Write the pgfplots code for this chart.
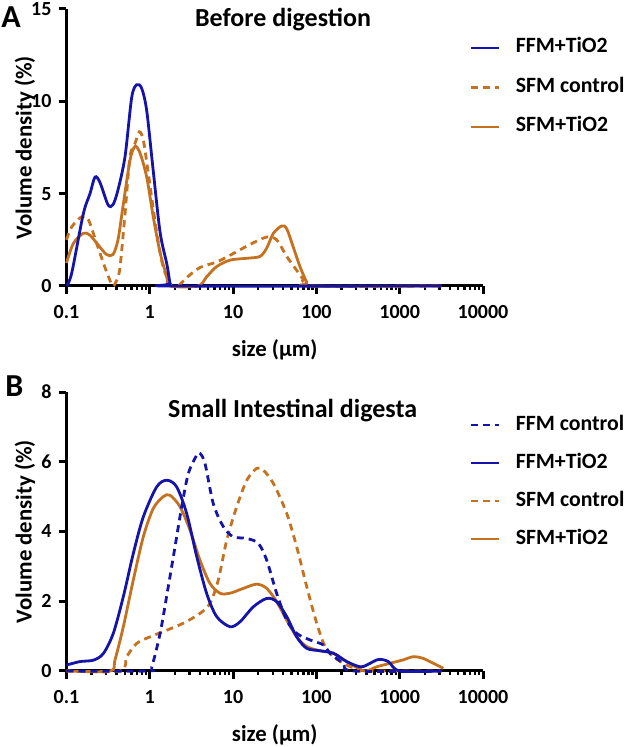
\documentclass[border=0pt]{standalone}
\usepackage{fontspec}
\setmainfont{Carlito}
\usepackage{pgfplots}
\pgfplotsset{compat=1.18}
\definecolor{cblue}{RGB}{20,20,170}
\definecolor{corange}{RGB}{196,114,32}
\newcommand{\tlab}{\fontsize{10}{12}\selectfont\bfseries}
\newcommand{\leglab}{\fontsize{10.9}{12}\selectfont\bfseries}
\newcommand{\alab}{\fontsize{11.4}{13}\selectfont\bfseries}
\newcommand{\ttlab}{\fontsize{13}{15}\selectfont\bfseries}

\pgfplotsset{
 every axis/.append style={
  width=208.25pt, scale only axis,
  axis lines=left, axis line style={-, line width=1.5pt, black},
  tick align=outside,
  major tick length=4pt, minor tick length=2pt,
  major tick style={black, line width=1.5pt},
  minor tick style={black, line width=1.2pt},
  tick label style={font=\tlab},
  xticklabel style={yshift=-2pt},
  /pgf/number format/assume math mode=true,
  clip=false,
  legend style={draw=none, fill=none, font=\leglab, inner sep=0pt, outer sep=0pt, column sep=7.5pt, anchor=north west, nodes={inner sep=0pt, text height=7pt, text depth=2pt}},
  legend cell align=left,
  every axis y label/.style={at={(axis description cs:-0.0996,0.5)}, rotate=90, anchor=center},
  every axis x label/.style={at={(axis description cs:0.5,-0.23)}, anchor=center},
  label style={font=\alab},
 },
 legend image code/.code={\draw[#1] (0pt,0pt) -- (14pt,0pt);},
}
\tikzset{
 sb/.style={cblue, line width=1.4pt, smooth, tension=0.5},
 db/.style={cblue, line width=1.4pt, smooth, tension=0.5, dash pattern=on 3.5pt off 2.5pt},
 so/.style={corange, line width=1.4pt, smooth, tension=0.5},
 do/.style={corange, line width=1.4pt, smooth, tension=0.5, dash pattern=on 3.5pt off 2.5pt},
}

\begin{document}
\begin{tikzpicture}
\path[use as bounding box] (0,0) rectangle (316.5pt,373.5pt);

\begin{axis}[xmode=log, xmin=0.1, xmax=10000, ymin=0,
  xtick={0.1,1,10,100,1000,10000},
  xticklabels={0.1,1,10,100,1000,10000},
  minor xtick={0.2,0.3,0.4,0.5,0.6,0.7,0.8,0.9,2,3,4,5,6,7,8,9,20,30,40,50,60,70,80,90,200,300,400,500,600,700,800,900,2000,3000,4000,5000,6000,7000,8000,9000},
  ylabel={Volume density (\%)}, xlabel={size (µm)},
  at={(33.25pt,230.5pt)}, anchor=south west, height=138.5pt,
  ymax=15, ytick={0,5,10,15},
  legend style={at={(axis description cs:0.969,0.892)}, row sep=10.75pt}]
\addlegendimage{sb}\addlegendentry{FFM+TiO2}
\addlegendimage{do}\addlegendentry{SFM control}
\addlegendimage{so}\addlegendentry{SFM+TiO2}
\node[font=\ttlab, anchor=base, inner sep=0pt] at (axis description cs:0.52,0.935) {Before digestion};
% SFM control
\addplot[do, forget plot] coordinates {(0.1,2.5) (0.1155,3.2) (0.1522,3.75) (0.1827,3.6) (0.2304,2.3) (0.2897,1.0) (0.3327,0.3) (0.361,0) (0.40,0.3) (0.4385,1.0) (0.504,3.9) (0.578,7.0) (0.663,7.7) (0.748,8.35) (0.836,7.9) (0.959,6.1) (1.21,2.9) (1.45,1.0) (1.75,0.15) (1.83,0) (2.18,0) (2.77,0.45) (4.0,1.0) (6.35,1.3) (9.97,1.75) (15.96,2.25) (25.3,2.65) (33.3,2.5) (44.0,1.6) (58.0,0.85) (69.6,0.35) (80,0) (3160,0)};
% SFM+TiO2
\addplot[so, forget plot] coordinates {(0.1,1.25) (0.1207,2.3) (0.159,2.85) (0.1915,2.75) (0.2525,2.1) (0.304,1.7) (0.361,1.7) (0.415,2.5) (0.4764,4.3) (0.578,6.8) (0.663,7.55) (0.763,7.2) (0.918,5.9) (1.10,3.75) (1.33,1.8) (1.60,0.5) (1.75,0) (3.79,0) (4.82,0.5) (6.35,1.05) (9.18,1.4) (14.6,1.5) (21.0,1.6) (25.3,2.05) (30.4,2.85) (38.3,3.25) (44.0,3.1) (52.8,2.1) (63.5,1.05) (76.5,0.2) (83.8,0) (3160,0)};
% FFM+TiO2
\addplot[sb, forget plot] coordinates {(0.1,0) (0.1155,0.7) (0.159,3.9) (0.1915,5.0) (0.220,5.9) (0.2525,5.6) (0.315,4.4) (0.361,4.4) (0.415,5.2) (0.504,7.0) (0.606,10.2) (0.696,10.9) (0.80,10.7) (0.918,9.5) (1.09,6.4) (1.33,2.9) (1.60,1.2) (1.75,0.15) (1.85,0) (3160,0)};
\end{axis}

\begin{axis}[xmode=log, xmin=0.1, xmax=10000, ymin=0,
  xtick={0.1,1,10,100,1000,10000},
  xticklabels={0.1,1,10,100,1000,10000},
  minor xtick={0.2,0.3,0.4,0.5,0.6,0.7,0.8,0.9,2,3,4,5,6,7,8,9,20,30,40,50,60,70,80,90,200,300,400,500,600,700,800,900,2000,3000,4000,5000,6000,7000,8000,9000},
  ylabel={Volume density (\%)}, xlabel={size (µm)},
  at={(33.25pt,38pt)}, anchor=south west, height=139.5pt,
  ymax=8, ytick={0,2,4,6,8},
  legend style={at={(axis description cs:0.969,0.914)}, row sep=10pt}]
\addlegendimage{db}\addlegendentry{FFM control}
\addlegendimage{sb}\addlegendentry{FFM+TiO2}
\addlegendimage{do}\addlegendentry{SFM control}
\addlegendimage{so}\addlegendentry{SFM+TiO2}
\node[font=\ttlab, anchor=base, inner sep=0pt] at (axis description cs:0.543,0.907) {Small Intestinal digesta};
% SFM control
\addplot[do, forget plot] coordinates {(0.1,0) (0.4385,0) (0.528,0.41) (0.696,0.79) (1.006,0.98) (1.60,1.17) (2.52,1.37) (4.0,1.65) (5.28,1.94) (6.64,2.61) (8.38,3.75) (11.05,4.71) (14.6,5.47) (19.2,5.81) (23.0,5.76) (30.4,5.38) (44.0,4.52) (58.0,3.56) (76.5,2.42) (100.8,1.37) (126.8,0.70) (159.6,0.41) (231,0.17) (334,0.03) (380,0) (3160,0)};
% SFM+TiO2
\addplot[so, forget plot] coordinates {(0.1,0) (0.3327,0) (0.382,0.32) (0.481,1.27) (0.634,2.61) (0.836,3.85) (1.10,4.66) (1.45,5.0) (1.75,5.04) (2.305,4.71) (3.04,4.04) (4.0,3.18) (5.28,2.51) (6.96,2.23) (9.18,2.23) (13.3,2.37) (19.2,2.49) (25.3,2.37) (33.3,1.99) (44.0,1.46) (58.0,0.98) (76.5,0.70) (110.5,0.58) (159.6,0.51) (231,0.27) (334,0.05) (402,0) (530,0.12) (765,0.22) (1105,0.32) (1456,0.41) (1920,0.36) (2530,0.22) (3336,0.08)};
% FFM control
\addplot[db, forget plot] coordinates {(0.1,0) (0.918,0) (1.054,0.12) (1.33,1.08) (1.667,2.42) (2.007,3.56) (2.415,4.71) (2.90,5.66) (3.66,6.19) (4.0,6.24) (4.60,5.95) (5.78,4.80) (7.63,4.14) (10.0,3.85) (14.6,3.80) (20.07,3.66) (25.3,3.18) (33.3,2.23) (44.0,1.46) (58.0,1.08) (83.8,0.89) (121,0.75) (145.6,0.51) (210,0.22) (277,0) (3160,0)};
% FFM+TiO2
\addplot[sb, forget plot] coordinates {(0.1,0.17) (0.145,0.27) (0.210,0.31) (0.2767,0.5) (0.3646,1.08) (0.4808,2.13) (0.634,3.37) (0.836,4.42) (1.21,5.28) (1.60,5.47) (2.10,5.28) (2.77,4.52) (3.66,3.28) (4.82,2.22) (6.35,1.56) (9.18,1.27) (12.1,1.41) (17.5,1.84) (25.3,2.08) (33.3,1.99) (44.0,1.56) (58.0,0.98) (76.5,0.65) (110.5,0.58) (159.6,0.51) (231,0.27) (334,0.12) (402,0.17) (553,0.33) (730,0.27) (1008,0) (3160,0)};
\end{axis}

\node[font=\fontsize{16}{18}\selectfont\bfseries, anchor=base west, inner sep=0pt] at (0.5pt,359.5pt) {A};
\node[font=\fontsize{16}{18}\selectfont\bfseries, anchor=base west, inner sep=0pt] at (2.5pt,175pt) {B};
\end{tikzpicture}
\end{document}
